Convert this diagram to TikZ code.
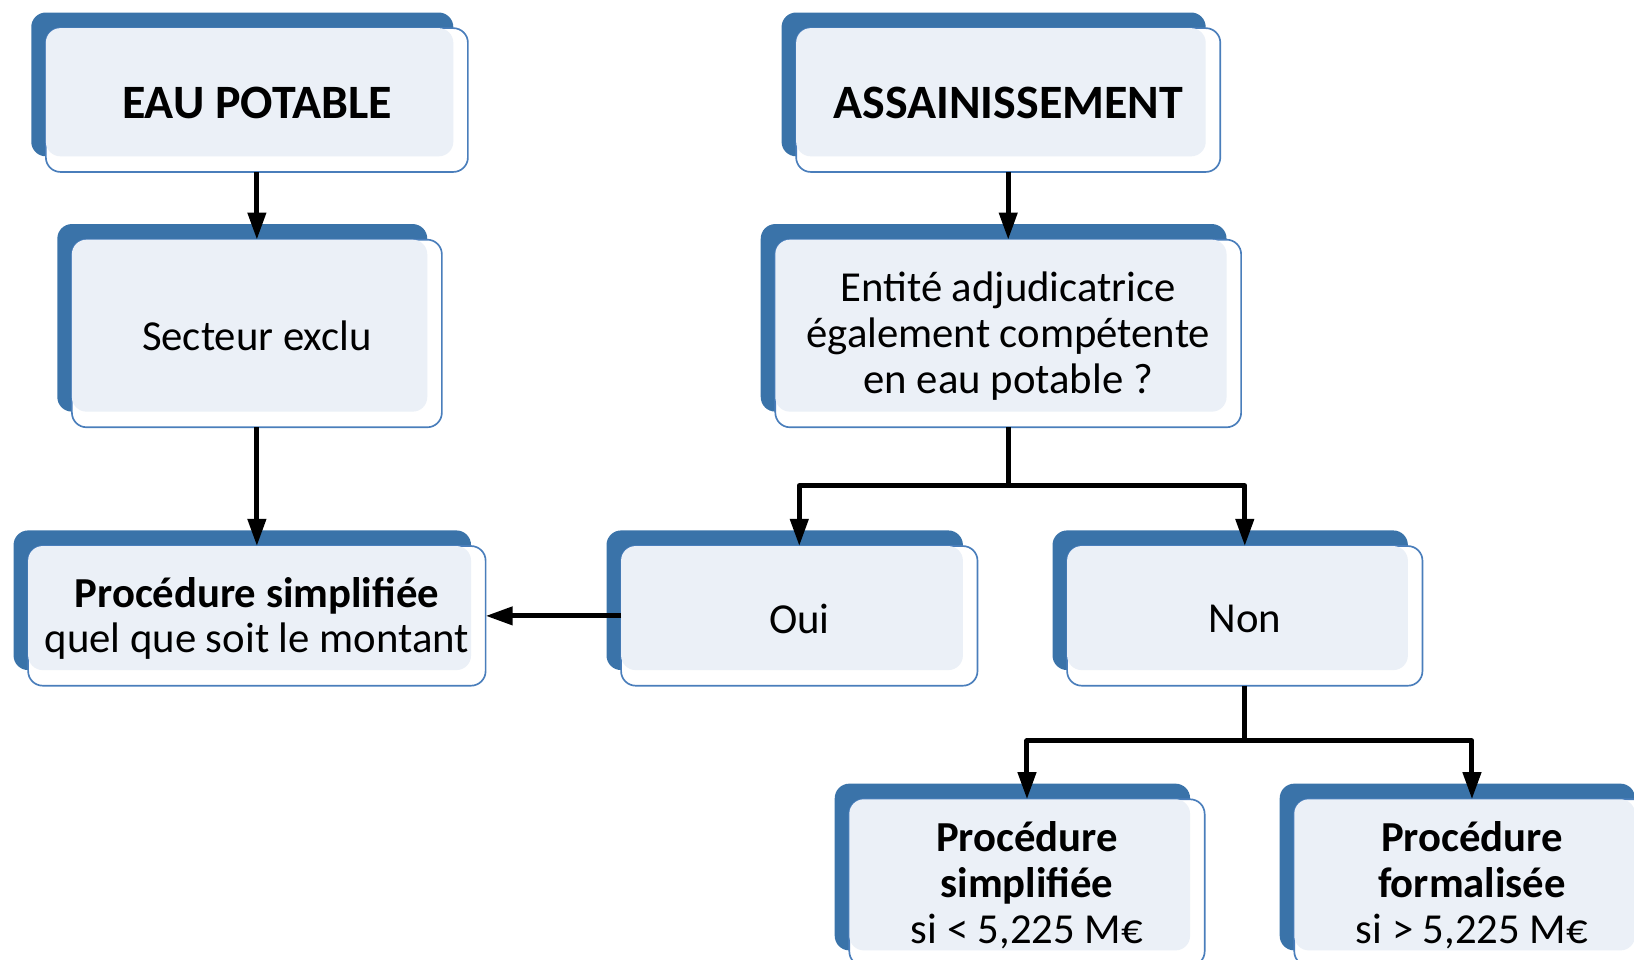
\documentclass[tikz,border=0pt]{standalone}
\usepackage{fontspec}
\setmainfont{Carlito}
\usetikzlibrary{arrows.meta,calc}
\definecolor{backblue}{HTML}{3A73A9}
\definecolor{lightfill}{HTML}{EBF0F7}
\definecolor{edgeblue}{HTML}{4A7EBB}
\newcommand\boxy[6]{%
  \fill[backblue, rounded corners=7pt] (#2,#3) rectangle (#4,#5);
  \node[frontbox, minimum width={(#4-#2)*0.5pt}, minimum height={(#5-#3)*0.5pt}] (#1) at ({(#2+#4)/2+14},{(#3+#5)/2+15}) {};
  \fill[lightfill, rounded corners=7pt] ({#2+14},{#3+15}) rectangle (#4,#5);
  \node[txt] (#1-t) at ($(#1.center)+(0,2.5)$) {#6};
}
\begin{document}
\begin{tikzpicture}[x=0.5pt,y=-0.5pt,
  frontbox/.style={draw=edgeblue, line width=0.8pt, fill=white, rounded corners=7pt, inner sep=0pt, outer sep=0pt},
  txt/.style={align=center, font=\fontsize{20.5}{22}\selectfont, inner sep=0pt},
  conn/.style={line width=2.4pt, line join=round, -{Triangle[length=13pt,width=8.5pt]}},
  seg/.style={line width=2.4pt}]
\useasboundingbox (0,0) rectangle (1568,921);
\clip (0,0) rectangle (1568,921);
\boxy{eau}{30}{12}{435}{150}{\fontsize{23}{26}\selectfont\bfseries EAU POTABLE}
\boxy{ass}{750}{12}{1157}{150}{\fontsize{23}{26}\selectfont\bfseries ASSAINISSEMENT}
\boxy{sect}{55}{215}{410}{395}{Secteur exclu}
\boxy{ent}{730}{215}{1177}{395}{Entité adjudicatrice\\également compétente\\en eau potable ?}
\boxy{proc}{13}{509}{452}{643}{{\bfseries Procédure simplifiée}\\quel que soit le montant}
\boxy{oui}{582}{509}{924}{643}{Oui}
\boxy{non}{1010}{509}{1351}{643}{Non}
\boxy{simp}{801}{752}{1142}{912}{{\bfseries Procédure}\\{\bfseries simplifiée}\\si < 5,225 M€}
\boxy{form}{1228}{752}{1569}{912}{{\bfseries Procédure}\\{\bfseries formalisée}\\si > 5,225 M€}
\draw[conn] (eau.south) -- (sect.north);
\draw[conn] (ass.south) -- (ent.north);
\draw[conn] (sect.south) -- (proc.north);
\coordinate (j1) at ($(ent.south)+(0,56)$);
\draw[seg] (ent.south) -- (j1);
\draw[conn] (j1) -| (oui.north);
\draw[conn] (j1) -| (non.north);
\draw[conn] (oui.west) -- (proc.east);
\coordinate (j2) at ($(non.south)+(0,53)$);
\draw[seg] (non.south) -- (j2);
\draw[conn] (j2) -| (simp.north);
\draw[conn] (j2) -| (form.north);
\end{tikzpicture}
\end{document}
